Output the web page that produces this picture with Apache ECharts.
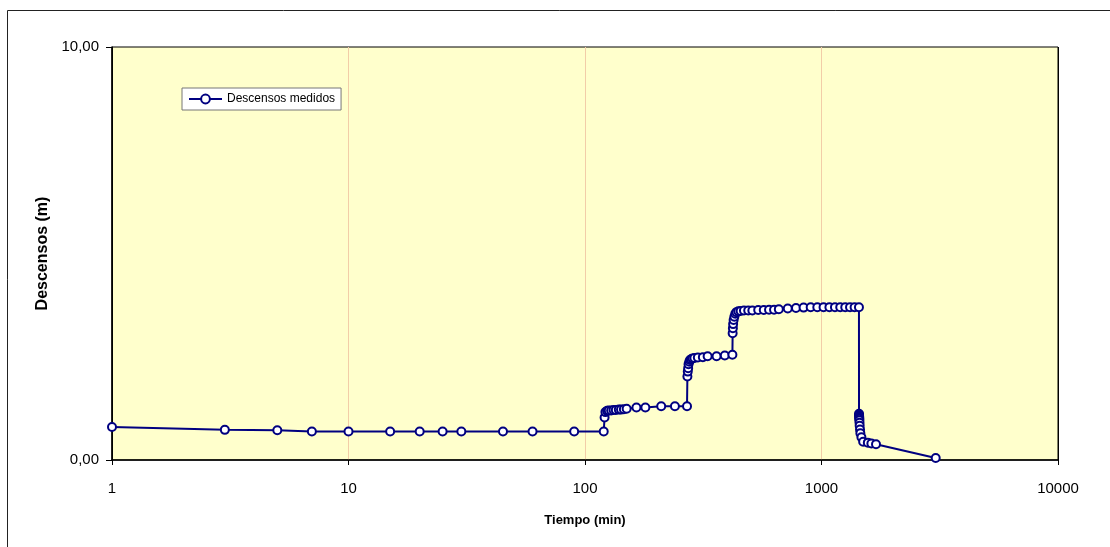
<!DOCTYPE html>
<html>
<head>
<meta charset="utf-8">
<title>Descensos medidos</title>
<script src="https://cdn.jsdelivr.net/npm/echarts@6/dist/echarts.min.js"></script>
<style>
html,body{margin:0;padding:0;background:#fff;}
#chart{width:1110px;height:547px;}
</style>
</head>
<body>
<div id="chart"></div>
<script>
// tiempos (min) y descensos (m)
var tiempo = [1, 3, 5, 7, 10, 15, 20, 25, 30, 45, 60, 90, 120,
  121, 122, 124, 126, 129, 132, 135, 139, 142, 146, 150, 165, 180, 210, 240, 270,
  271, 272, 273, 274, 276, 278, 281, 285, 290, 300, 315, 330, 360, 390, 420,
  421, 422, 423, 425, 428, 432, 437, 445, 455, 470, 490, 510, 540, 570, 600, 630, 660,
  720, 780, 840, 900, 960, 1020, 1080, 1140, 1200, 1260, 1320, 1380, 1440,
  1441, 1442, 1443, 1444, 1445, 1446, 1448, 1450, 1455, 1460, 1475, 1500, 1570, 1625, 1700, 3040];
var descenso = [0.80, 0.73, 0.72, 0.69, 0.69, 0.69, 0.69, 0.69, 0.69, 0.69, 0.69, 0.69, 0.69,
  1.03, 1.16, 1.19, 1.20, 1.20, 1.21, 1.21, 1.22, 1.22, 1.23, 1.24, 1.27, 1.27, 1.30, 1.30, 1.30,
  2.02, 2.14, 2.22, 2.32, 2.38, 2.42, 2.44, 2.46, 2.47, 2.48, 2.49, 2.51, 2.51, 2.53, 2.55,
  3.07, 3.19, 3.29, 3.39, 3.47, 3.54, 3.58, 3.60, 3.61, 3.62, 3.62, 3.62, 3.63, 3.63, 3.64, 3.64, 3.65,
  3.67, 3.68, 3.69, 3.70, 3.70, 3.70, 3.70, 3.70, 3.70, 3.70, 3.70, 3.70, 3.70,
  1.12, 1.09, 1.06, 1.03, 1.00, 0.96, 0.90, 0.83, 0.74, 0.65, 0.55, 0.44, 0.42, 0.40, 0.38, 0.05];
var serieNombre = 'Descensos medidos';
var xNombre = 'Tiempo (min)';
var yNombre = 'Descensos (m)';

var puntos = [];
for (var i = 0; i < tiempo.length; i++) {
  puntos.push([tiempo[i], descenso[i]]);
}

var fuente = "'Liberation Sans', Arial, sans-serif";
var myChart = echarts.init(document.getElementById('chart'));

var option = {
  backgroundColor: '#fff',
  animation: false,
  graphic: [{
    type: 'rect',
    shape: {x: 7.5, y: 10.5, width: 1200, height: 700},
    style: {fill: 'none', stroke: '#222', lineWidth: 1},
    silent: true
  }],
  grid: {
    left: 112, top: 47, right: 52, bottom: 87,
    show: true,
    backgroundColor: '#FFFFCC',
    borderColor: '#000',
    borderWidth: 1
  },
  legend: {
    left: 182, top: 88,
    orient: 'vertical',
    backgroundColor: '#fff',
    borderColor: '#777',
    borderWidth: 1,
    borderRadius: 0,
    padding: [5, 6, 5, 6],
    itemWidth: 33,
    itemHeight: 11,
    textStyle: {fontFamily: fuente, fontSize: 12, color: '#000'},
    data: [serieNombre]
  },
  xAxis: {
    type: 'log',
    logBase: 10,
    min: 1,
    max: 10000,
    name: xNombre,
    nameLocation: 'middle',
    nameGap: 54,
    nameTextStyle: {fontFamily: fuente, fontSize: 13, fontWeight: 'bold', color: '#000'},
    axisLine: {show: true, lineStyle: {color: '#000', width: 1.5}},
    axisTick: {show: true, length: 5, lineStyle: {color: '#000'}},
    axisLabel: {
      margin: 21,
      fontFamily: fuente, fontSize: 15, color: '#000',
      formatter: function (v) { return String(Math.round(v)); }
    },
    splitLine: {show: true, lineStyle: {color: ['#000', '#F2CDA8', '#F2CDA8', '#F2CDA8', '#000'], width: 1}},
    minorTick: {show: false}
  },
  yAxis: {
    type: 'value',
    min: 0,
    max: 10,
    interval: 10,
    name: yNombre,
    nameLocation: 'middle',
    nameGap: 44,
    nameTextStyle: {fontFamily: fuente, fontSize: 16, fontWeight: 'bold', color: '#000'},
    axisLine: {show: true, lineStyle: {color: '#000', width: 1.5}},
    axisTick: {show: true, length: 6, lineStyle: {color: '#000'}},
    axisLabel: {
      margin: 13,
      fontFamily: fuente, fontSize: 15, color: '#000',
      formatter: function (v) { return v.toFixed(2).replace('.', ','); }
    },
    splitLine: {show: false}
  },
  series: [{
    name: serieNombre,
    type: 'line',
    data: puntos,
    showAllSymbol: true,
    symbol: 'circle',
    symbolSize: 8,
    lineStyle: {color: '#000080', width: 2},
    itemStyle: {color: '#fff', borderColor: '#000080', borderWidth: 2}
  }]
};

myChart.setOption(option, true);
</script>
</body>
</html>
